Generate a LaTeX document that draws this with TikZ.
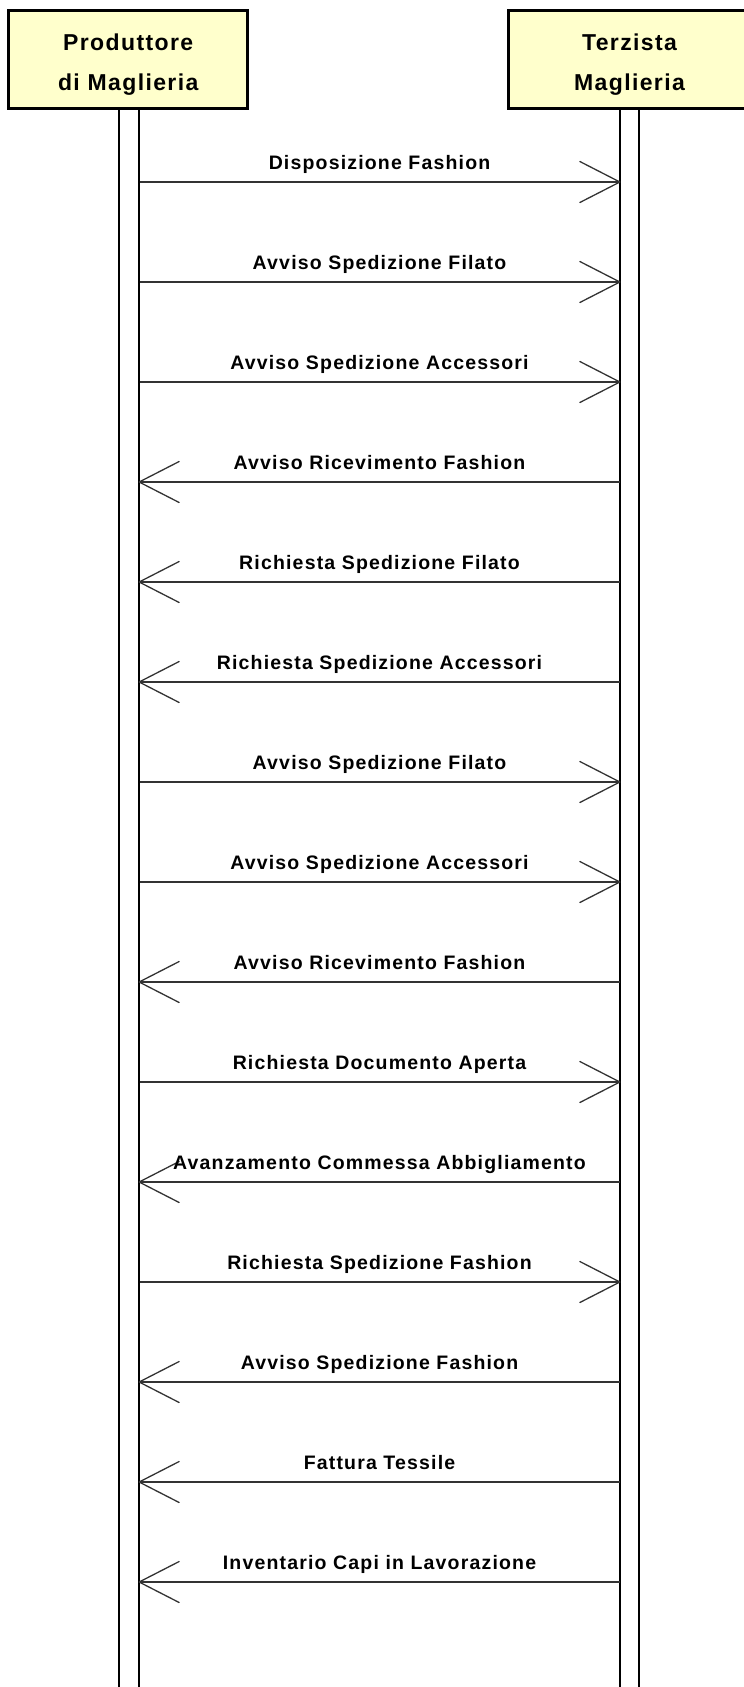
\documentclass[tikz,border=0pt]{standalone}
\usepackage{fontspec}
\usetikzlibrary{arrows.meta}
\newfontfamily\lblfont[LetterSpace=6]{Liberation Sans}
\definecolor{boxfill}{HTML}{FFFFCC}
\definecolor{msgcol}{HTML}{333333}
\tikzset{
  actorbox/.style={draw=black, line width=3pt, fill=boxfill, inner sep=0pt},
  lifeline/.style={draw=black, line width=1.5pt},
  msg/.style={draw=msgcol, line width=2pt,
    -{Straight Barb[length=40pt,width=41pt,line width=1.3pt,round]}, shorten >=-1pt},
  msglabel/.style={anchor=base, inner sep=0pt, font=\lblfont\bfseries\fontsize{19.5}{23}\selectfont},
  titlefont/.style={font=\lblfont\bfseries\fontsize{23}{40}\selectfont, align=center, inner sep=0pt}
}
\begin{document}
\begin{tikzpicture}[x=1pt,y=-1pt]
\useasboundingbox (0,0) rectangle (744,1687);
% actor boxes
\path[actorbox] (8.8,10.8) rectangle (247.5,108.5);
\path[actorbox] (508.8,10.8) rectangle (760,108.5);
\node[titlefont, anchor=base] (pa) at (128.2,50) {Produttore};
\node[titlefont, anchor=base] (pb) at (128.2,90) {di Maglieria};
\node[titlefont, anchor=base] (ta) at (629.5,50) {Terzista};
\node[titlefont, anchor=base] (tb) at (629.5,90) {Maglieria};
% lifelines
\coordinate (LLa) at (119,110); \coordinate (LLb) at (139,110);
\coordinate (RLa) at (620,110); \coordinate (RLb) at (639,110);
\draw[lifeline] (LLa) -- (119,1690);
\draw[lifeline] (LLb) -- (139,1690);
\draw[lifeline] (RLa) -- (620,1690);
\draw[lifeline] (RLb) -- (639,1690);
% messages
\foreach \i/\dir/\txt in {
  0/r/Disposizione Fashion,
  1/r/Avviso Spedizione Filato,
  2/r/Avviso Spedizione Accessori,
  3/l/Avviso Ricevimento Fashion,
  4/l/Richiesta Spedizione Filato,
  5/l/Richiesta Spedizione Accessori,
  6/r/Avviso Spedizione Filato,
  7/r/Avviso Spedizione Accessori,
  8/l/Avviso Ricevimento Fashion,
  9/r/Richiesta Documento Aperta,
  10/l/Avanzamento Commessa Abbigliamento,
  11/r/Richiesta Spedizione Fashion,
  12/l/Avviso Spedizione Fashion,
  13/l/Fattura Tessile,
  14/l/Inventario Capi in Lavorazione}{
  \pgfmathsetmacro{\yy}{182+100*\i}
  \coordinate (L\i) at (139.5,\yy);
  \coordinate (R\i) at (619.5,\yy);
  \if\dir r
    \draw[msg] (L\i) -- (R\i);
  \else
    \draw[msg] (R\i) -- (L\i);
  \fi
  \node[msglabel] (m\i) at (379.5,\yy-13) {\txt};
}
\end{tikzpicture}
\end{document}
